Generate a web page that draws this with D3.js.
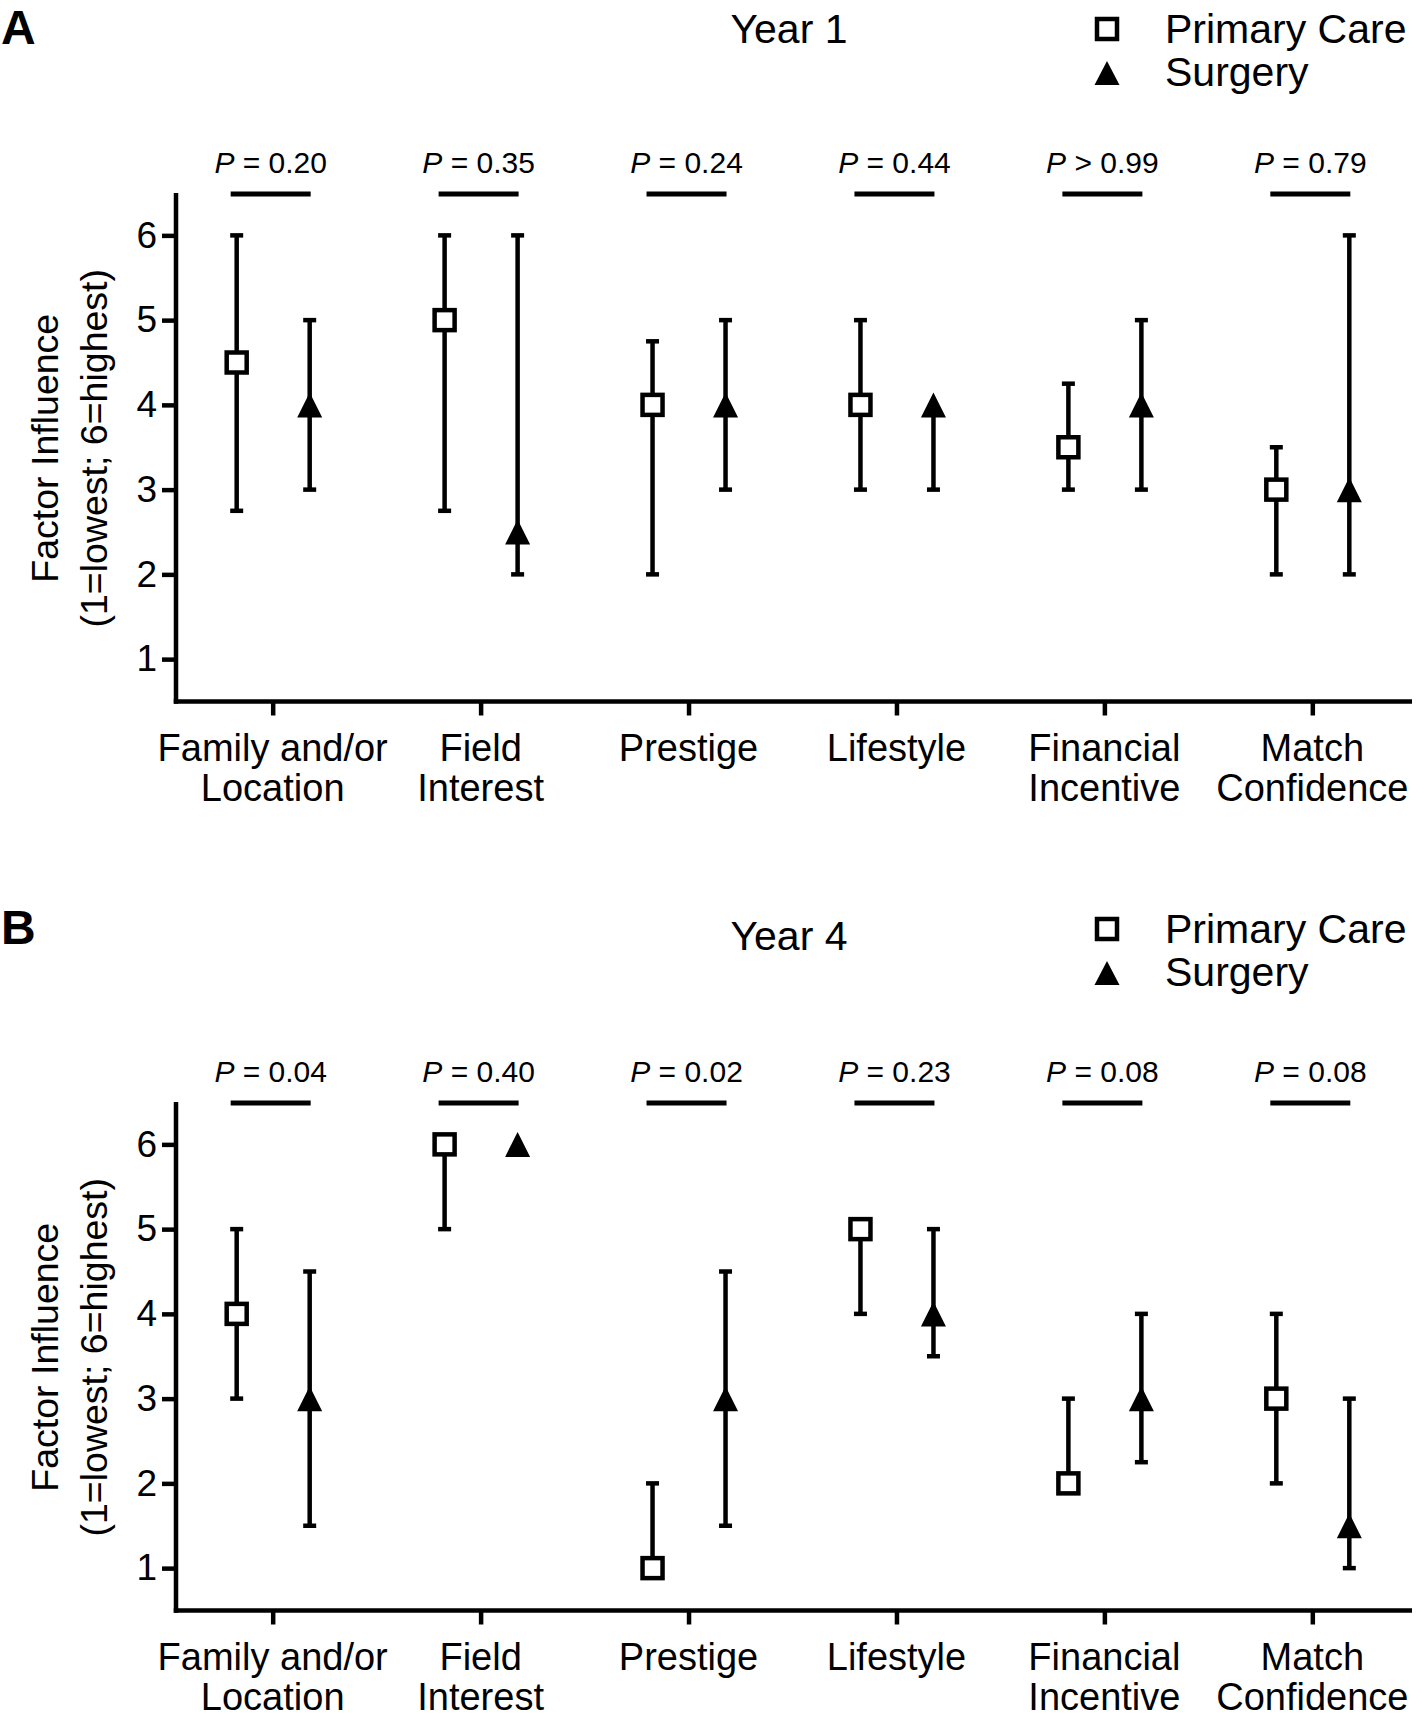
<!DOCTYPE html>
<html>
<head>
<meta charset="utf-8">
<script src="https://cdn.jsdelivr.net/npm/d3@7"></script>
<style>
  html, body { margin: 0; padding: 0; background: #fff; }
  svg { display: block; font-family: "Liberation Sans", Arial, Helvetica, sans-serif; }
</style>
</head>
<body>
<svg id="chart" width="1416" height="1719"></svg>
<script>
// ---------- DATA ----------
const categories = ["Family and/or Location", "Field Interest", "Prestige", "Lifestyle", "Financial Incentive", "Match Confidence"];
const categoryLines = [["Family and/or", "Location"], ["Field", "Interest"], ["Prestige"], ["Lifestyle"], ["Financial", "Incentive"], ["Match", "Confidence"]];
const yTicks = [1, 2, 3, 4, 5, 6];
const seriesNames = ["Primary Care", "Surgery"];

// Year 1
const y1PrimaryMedian = [4.5, 5, 4, 4, 3.5, 3];
const y1PrimaryLow    = [2.75, 2.75, 2, 3, 3, 2];
const y1PrimaryHigh   = [6, 6, 4.75, 5, 4.25, 3.5];
const y1SurgeryMedian = [4, 2.5, 4, 4, 4, 3];
const y1SurgeryLow    = [3, 2, 3, 3, 3, 2];
const y1SurgeryHigh   = [5, 6, 5, 4, 5, 6];
const y1PValues = ["= 0.20", "= 0.35", "= 0.24", "= 0.44", "> 0.99", "= 0.79"];

// Year 4
const y4PrimaryMedian = [4, 6, 1, 5, 2, 3];
const y4PrimaryLow    = [3, 5, 1, 4, 2, 2];
const y4PrimaryHigh   = [5, 6, 2, 5, 3, 4];
const y4SurgeryMedian = [3, 6, 3, 4, 3, 1.5];
const y4SurgeryLow    = [1.5, 6, 1.5, 3.5, 2.25, 1];
const y4SurgeryHigh   = [4.5, 6, 4.5, 5, 4, 3];
const y4PValues = ["= 0.04", "= 0.40", "= 0.02", "= 0.23", "= 0.08", "= 0.08"];

const panels = [
  { letter: "A", title: "Year 1", plotDy: 0, headDy: 0, titleDy: 0,
    primary: { med: y1PrimaryMedian, lo: y1PrimaryLow, hi: y1PrimaryHigh },
    surgery: { med: y1SurgeryMedian, lo: y1SurgeryLow, hi: y1SurgeryHigh },
    p: y1PValues },
  { letter: "B", title: "Year 4", plotDy: 909, headDy: 900, titleDy: 907,
    primary: { med: y4PrimaryMedian, lo: y4PrimaryLow, hi: y4PrimaryHigh },
    surgery: { med: y4SurgeryMedian, lo: y4SurgeryLow, hi: y4SurgeryHigh },
    p: y4PValues }
];

// ---------- LAYOUT ----------
const svg = d3.select("#chart");
const FONT = "'Liberation Sans', Arial, sans-serif";
const axisX0 = 176, axisX1 = 1412;
const plotTop = 193, plotBottom = 701.5;
const LW = 4.5;
const offPrimary = -36, offSurgery = 37;
const capW = 13;
const SQ = 20;

const x = d3.scalePoint().domain(categories).range([axisX0, 1409]).padding(0.465);
const y = d3.scaleLinear().domain([0.5, 6.5]).range([plotBottom, plotTop]);

function triPath(cx, cy, w, h) {
  return `M${cx},${cy - h / 2}L${cx + w / 2},${cy + h / 2}L${cx - w / 2},${cy + h / 2}Z`;
}

panels.forEach(panel => {
  // header
  const head = svg.append("g").attr("transform", `translate(0,${panel.headDy})`);
  head.append("text").attr("x", 1).attr("y", 44)
    .attr("font-size", 48).attr("font-weight", "bold").text(panel.letter);

  svg.append("text").attr("x", 789).attr("y", 43 + panel.titleDy)
    .attr("text-anchor", "middle").attr("font-size", 41).text(panel.title);

  // legend
  const leg = head.append("g");
  leg.append("rect").attr("x", 1107 - SQ / 2).attr("y", 29 - SQ / 2).attr("width", SQ).attr("height", SQ)
    .attr("fill", "#fff").attr("stroke", "#000").attr("stroke-width", LW);
  leg.append("path").attr("d", triPath(1107, 73, 25, 24)).attr("fill", "#000");
  leg.append("text").attr("x", 1165).attr("y", 43).attr("font-size", 41).text(seriesNames[0]);
  leg.append("text").attr("x", 1165).attr("y", 86).attr("font-size", 41).text(seriesNames[1]);

  // plot
  const g = svg.append("g").attr("transform", `translate(0,${panel.plotDy})`);

  // y axis
  const yAxis = g.append("g").attr("transform", `translate(${axisX0},0)`)
    .call(d3.axisLeft(y).tickValues(yTicks).tickFormat(d3.format("d")).tickSize(14).tickPadding(5).tickSizeOuter(0));
  yAxis.select(".domain").remove();
  yAxis.selectAll(".tick line").attr("stroke", "#000").attr("stroke-width", LW);
  yAxis.selectAll(".tick text").attr("font-size", 37).attr("fill", "#000").attr("font-family", FONT);
  g.append("line").attr("x1", axisX0).attr("x2", axisX0).attr("y1", plotTop).attr("y2", plotBottom + LW / 2)
    .attr("stroke", "#000").attr("stroke-width", LW);

  // x axis
  const xAxis = g.append("g").attr("transform", `translate(0,${plotBottom})`)
    .call(d3.axisBottom(x).tickSize(14).tickSizeOuter(0).tickFormat(""));
  xAxis.select(".domain").remove();
  xAxis.selectAll(".tick line").attr("stroke", "#000").attr("stroke-width", LW);
  g.append("line").attr("x1", axisX0 - LW / 2).attr("x2", axisX1).attr("y1", plotBottom).attr("y2", plotBottom)
    .attr("stroke", "#000").attr("stroke-width", LW);

  // category labels
  categories.forEach((c, i) => {
    const t = g.append("text").attr("x", x(c)).attr("y", plotBottom + 59)
      .attr("text-anchor", "middle").attr("font-size", 38);
    categoryLines[i].forEach((ln, k) => {
      t.append("tspan").attr("x", x(c)).attr("dy", k === 0 ? 0 : 40.5).text(ln);
    });
  });

  // y-axis title
  const yt = g.append("text").attr("transform", `translate(0,${(plotTop + plotBottom) / 2 + 1}) rotate(-90)`)
    .attr("text-anchor", "middle").attr("font-size", 37.5);
  yt.append("tspan").attr("x", 0).attr("y", 58).text("Factor Influence");
  yt.append("tspan").attr("x", 0).attr("y", 107).text("(1=lowest; 6=highest)");

  // p-values
  categories.forEach((c, i) => {
    const cx = x(c) - 2;
    const t = g.append("text").attr("x", cx).attr("y", 173).attr("text-anchor", "middle").attr("font-size", 30);
    t.append("tspan").attr("font-style", "italic").text("P");
    t.append("tspan").text(" " + panel.p[i]);
    g.append("line").attr("x1", x(c) - 42).attr("x2", x(c) + 38).attr("y1", 194).attr("y2", 194)
      .attr("stroke", "#000").attr("stroke-width", 5);
  });

  // error bars + markers
  const drawSeries = (s, off, kind) => {
    categories.forEach((c, i) => {
      const cx = x(c) + off;
      const m = s.med[i], lo = s.lo[i], hi = s.hi[i];
      if (hi !== lo) {
        g.append("line").attr("x1", cx).attr("x2", cx).attr("y1", y(hi)).attr("y2", y(lo))
          .attr("stroke", "#000").attr("stroke-width", LW);
      }
      [lo, hi].forEach(v => {
        if (v !== m) {
          g.append("line").attr("x1", cx - capW / 2).attr("x2", cx + capW / 2).attr("y1", y(v)).attr("y2", y(v))
            .attr("stroke", "#000").attr("stroke-width", LW);
        }
      });
      if (kind === "square") {
        g.append("rect").attr("x", cx - SQ / 2).attr("y", y(m) - SQ / 2).attr("width", SQ).attr("height", SQ)
          .attr("fill", "#fff").attr("stroke", "#000").attr("stroke-width", LW);
      } else {
        g.append("path").attr("d", triPath(cx, y(m), 25, 25)).attr("fill", "#000");
      }
    });
  };
  drawSeries(panel.primary, offPrimary, "square");
  drawSeries(panel.surgery, offSurgery, "triangle");
});
</script>
</body>
</html>
